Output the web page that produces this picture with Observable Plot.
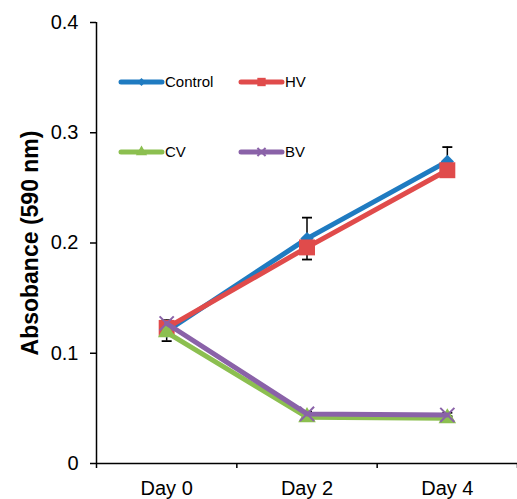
<!DOCTYPE html>
<html>
<head>
<meta charset="utf-8">
<script src="https://cdn.jsdelivr.net/npm/d3@7"></script>
<script src="https://cdn.jsdelivr.net/npm/@observablehq/plot@0.6"></script>
<style>
  html, body { margin: 0; padding: 0; background: #fff; }
  #wrap { position: relative; width: 517px; height: 499px; font-family: "Liberation Sans", Arial, sans-serif; }
  #wrap g[aria-label="y-axis label"] { font-weight: bold !important; font-size: 23px !important; }
  #wrap g[aria-label="y-axis label"] text { font-weight: bold !important; font-size: 23px !important; }
  #legend { position: absolute; left: 0; top: 0; pointer-events: none; }
</style>
</head>
<body>
<div id="wrap"></div>
<script>
const days = ["Day 0", "Day 2", "Day 4"];
const seriesNames = ["Control", "HV", "CV", "BV"];
const control = [0.120, 0.204, 0.274];
const controlErr = [0.009, 0.019, 0.013];
const hv = [0.123, 0.196, 0.266];
const hvErr = [0.004, 0.006, 0.004];
const cv = [0.119, 0.042, 0.041];
const cvErr = [0.003, 0.002, 0.002];
const bv = [0.127, 0.045, 0.044];
const bvErr = [0.003, 0.002, 0.002];
const yTicks = [0, 0.1, 0.2, 0.3, 0.4];

const colors = { Control: "#1f7bc1", HV: "#e04b4b", CV: "#8cbf50", BV: "#8a62a8" };
const symbols = { Control: "diamond2", HV: "square", CV: "triangle", BV: "times" };

const valuesBy = { Control: control, HV: hv, CV: cv, BV: bv };
const errBy = { Control: controlErr, HV: hvErr, CV: cvErr, BV: bvErr };
const rows = [];
for (const s of seriesNames) {
  days.forEach((d, i) => rows.push({ series: s, day: d, xi: i + 0.5, v: valuesBy[s][i], e: errBy[s][i] }));
}

const capSymbol = { draw(ctx) { ctx.moveTo(-5, 0); ctx.lineTo(5, 0); } };
const errRows = rows.flatMap(r => [{ ...r, cy: r.v + r.e }, { ...r, cy: r.v - r.e }]);

const markSize = { Control: 6, HV: 9, CV: 6.5, BV: 6.5 };

const marks = [
  Plot.ruleX(rows, { x: "xi", y1: d => d.v - d.e, y2: d => d.v + d.e, stroke: "#000", strokeWidth: 1.5 }),
  Plot.dot(errRows, { x: "xi", y: "cy", symbol: () => capSymbol, r: 5, fill: "none", stroke: "#000", strokeWidth: 1.8 }),
];
for (const s of seriesNames) {
  const data = rows.filter(r => r.series === s);
  marks.push(Plot.line(data, { x: "xi", y: "v", stroke: colors[s], strokeWidth: 5 }));
  if (s === "BV") {
    marks.push(Plot.dot(data, { x: "xi", y: "v", symbol: symbols[s], r: markSize[s], fill: "none", stroke: colors[s], strokeWidth: 2 }));
  } else {
    marks.push(Plot.dot(data, { x: "xi", y: "v", symbol: symbols[s], r: markSize[s], fill: colors[s], stroke: "none" }));
  }
}
marks.push(
  Plot.ruleX([0], { stroke: "#000", strokeWidth: 1.5 }),
  Plot.ruleY([0], { stroke: "#000", strokeWidth: 1.5 }),
  Plot.axisY({ ticks: yTicks, tickFormat: d => d === 0 ? "0" : d.toFixed(1), tickSize: 6, tickPadding: 12, fontSize: 20,
    label: null, stroke: "#000", strokeWidth: 1.5 }),
  Plot.axisY({ ticks: [], tickSize: 0, label: "Absobance (590 nm)", labelAnchor: "center", labelArrow: "none", labelOffset: 75, fontSize: 23, fontWeight: "bold" }),
  Plot.axisX({ ticks: [0, 1, 2, 3], tickFormat: () => "", tickSize: 5, strokeWidth: 1.5, label: null }),
  Plot.axisX({ ticks: [0.5, 1.5, 2.5], tickFormat: d => days[Math.round(d - 0.5)], tickSize: 0, tickPadding: 17, fontSize: 20, label: null })
);

const chart = Plot.plot({
  width: 517,
  height: 499,
  marginLeft: 96,
  marginRight: 0,
  marginTop: 22,
  marginBottom: 36,
  style: { fontFamily: "'Liberation Sans', Arial, sans-serif", color: "#000", background: "#fff", overflow: "visible" },
  x: { type: "linear", domain: [0, 3] },
  y: { domain: [0, 0.4] },
  marks
});
document.getElementById("wrap").appendChild(chart);

// legend overlay
const ns = "http://www.w3.org/2000/svg";
const leg = document.createElementNS(ns, "svg");
leg.setAttribute("id", "legend");
leg.setAttribute("width", 517);
leg.setAttribute("height", 499);
const legPos = [
  { s: "Control", x: 121, y: 82 },
  { s: "HV", x: 241, y: 82 },
  { s: "CV", x: 121, y: 152 },
  { s: "BV", x: 241, y: 152 }
];
const symPath = {
  Control: d3.symbol(d3.symbolDiamond2, 40)(),
  HV: d3.symbol(d3.symbolSquare, 70)(),
  CV: d3.symbol(d3.symbolTriangle, 55)(),
  BV: d3.symbol(d3.symbolTimes, 45)()
};
for (const p of legPos) {
  const g = document.createElementNS(ns, "g");
  const ln = document.createElementNS(ns, "line");
  ln.setAttribute("x1", p.x); ln.setAttribute("x2", p.x + 41);
  ln.setAttribute("y1", p.y); ln.setAttribute("y2", p.y);
  ln.setAttribute("stroke", colors[p.s]); ln.setAttribute("stroke-width", 5);
  ln.setAttribute("stroke-linecap", "round");
  g.appendChild(ln);
  const m = document.createElementNS(ns, "path");
  m.setAttribute("d", symPath[p.s]);
  m.setAttribute("transform", `translate(${p.x + 20.5},${p.y})`);
  if (p.s === "BV") { m.setAttribute("fill", "none"); m.setAttribute("stroke", colors[p.s]); m.setAttribute("stroke-width", 2); }
  else m.setAttribute("fill", colors[p.s]);
  g.appendChild(m);
  const t = document.createElementNS(ns, "text");
  t.setAttribute("x", p.x + 44); t.setAttribute("y", p.y);
  t.setAttribute("dy", "0.35em");
  t.setAttribute("font-size", 15);
  t.setAttribute("font-family", "'Liberation Sans', Arial, sans-serif");
  t.setAttribute("fill", "#000");
  t.textContent = p.s;
  g.appendChild(t);
  leg.appendChild(g);
}
document.getElementById("wrap").appendChild(leg);
</script>
</body>
</html>
